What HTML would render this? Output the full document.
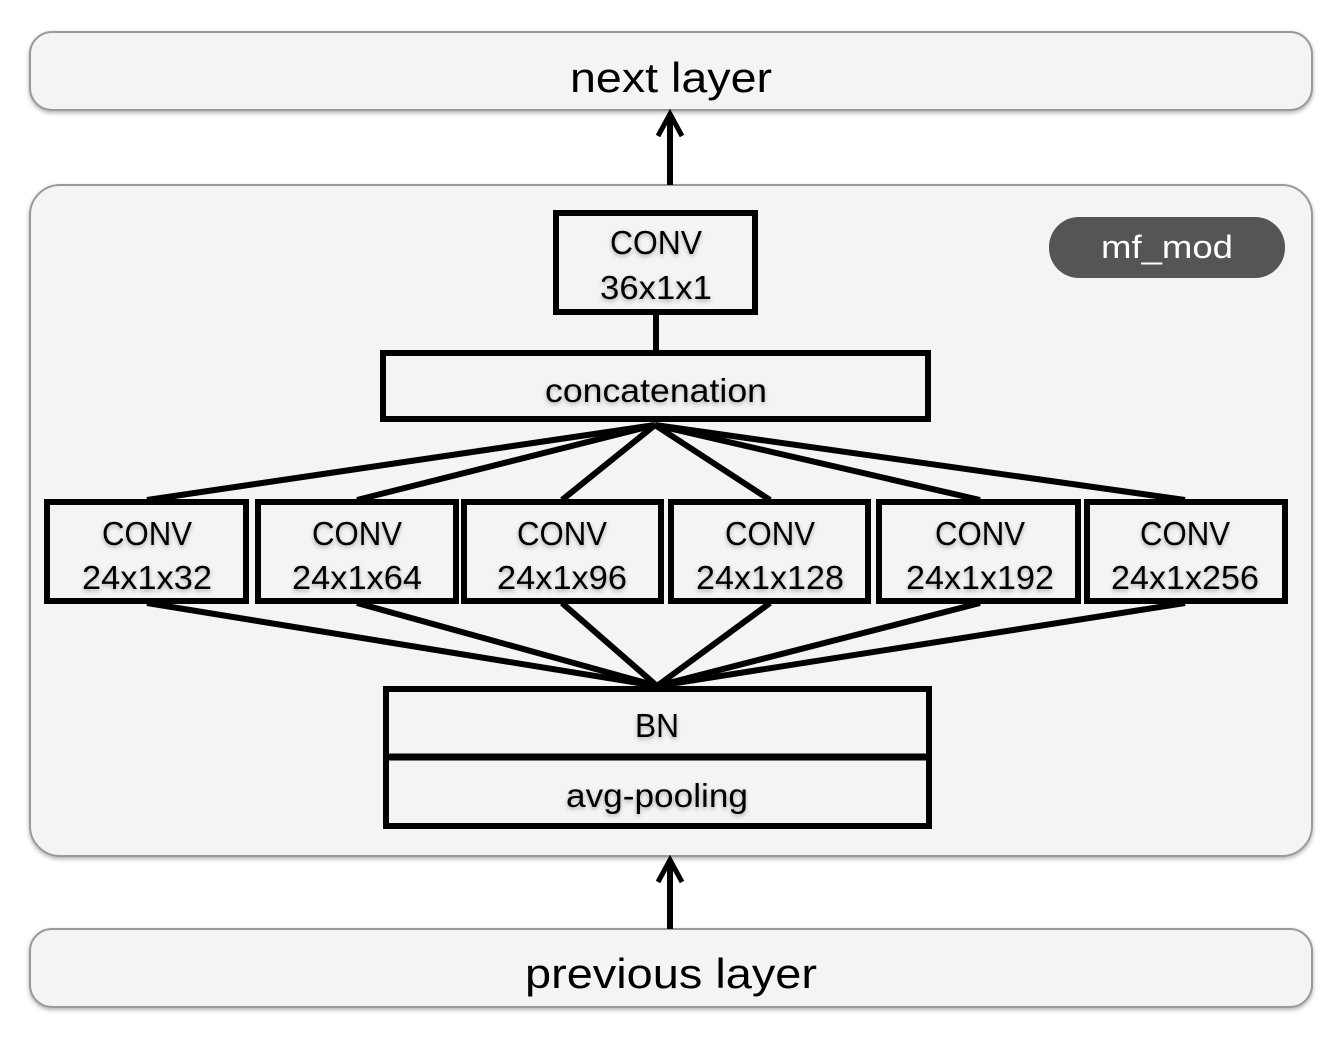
<!DOCTYPE html>
<html><head><meta charset="utf-8"><style>
html,body{margin:0;padding:0;background:#fff;width:1342px;height:1040px;overflow:hidden}
text{font-family:"Liberation Sans",sans-serif;fill:#000}
</style></head><body>
<svg width="1342" height="1040" viewBox="0 0 1342 1040" xmlns="http://www.w3.org/2000/svg">
<defs><filter id="sh" x="-5%" y="-5%" width="110%" height="120%"><feDropShadow dx="0" dy="2" stdDeviation="2" flood-color="#000" flood-opacity="0.3"/></filter></defs>
<rect x="30" y="32" width="1282" height="78" rx="22" fill="#f4f4f4" stroke="#9a9a9a" stroke-width="2" filter="url(#sh)"/>
<text x="671" y="92" font-size="42" text-anchor="middle" textLength="202" lengthAdjust="spacingAndGlyphs">next layer</text>
<rect x="30" y="929" width="1282" height="78" rx="22" fill="#f4f4f4" stroke="#9a9a9a" stroke-width="2" filter="url(#sh)"/>
<text x="671" y="988" font-size="42" text-anchor="middle" textLength="292" lengthAdjust="spacingAndGlyphs">previous layer</text>
<rect x="30" y="185" width="1282" height="671" rx="30" fill="#f4f4f4" stroke="#9a9a9a" stroke-width="2" filter="url(#sh)"/>
<g stroke="#000" stroke-width="6" fill="none">
<line x1="670" y1="185" x2="670" y2="116"/><polyline points="658,136 670,114 682,136" stroke-width="5"/>
<line x1="670" y1="929" x2="670" y2="862"/><polyline points="658,882 670,860 682,882" stroke-width="5"/>
<line x1="656" y1="314" x2="656" y2="351"/>
<g stroke-width="6">
<line x1="655" y1="425" x2="147" y2="500"/><line x1="655" y1="425" x2="357" y2="500"/><line x1="655" y1="425" x2="562" y2="500"/>
<line x1="655" y1="425" x2="770" y2="500"/><line x1="655" y1="425" x2="980" y2="500"/><line x1="655" y1="425" x2="1185" y2="500"/>
<line x1="657" y1="686" x2="147" y2="603"/><line x1="657" y1="686" x2="357" y2="603"/><line x1="657" y1="686" x2="562" y2="603"/>
<line x1="657" y1="686" x2="770" y2="603"/><line x1="657" y1="686" x2="980" y2="603"/><line x1="657" y1="686" x2="1185" y2="603"/>
</g>
<g fill="#f4f4f4" stroke-width="6">
<rect x="556" y="213" width="199" height="99"/>
<rect x="383" y="353" width="545" height="66"/>
<rect x="47" y="502" width="199" height="99"/>
<rect x="258" y="502" width="198" height="99"/>
<rect x="464" y="502" width="197" height="99"/>
<rect x="671" y="502" width="197" height="99"/>
<rect x="879" y="502" width="199" height="99"/>
<rect x="1087" y="502" width="198" height="99"/>
<rect x="386" y="689" width="543" height="137"/>
</g>
<line x1="386" y1="757" x2="929" y2="757" stroke-width="7"/>
</g>
<rect x="1049" y="217" width="236" height="61" rx="30" fill="#555"/>
<text x="1167" y="258" font-size="32" text-anchor="middle" fill="#fff" style="fill:#fff" textLength="132" lengthAdjust="spacingAndGlyphs">mf_mod</text>
<g font-size="33" text-anchor="middle" filter="url(#sh)">
<text x="656" y="254" textLength="92" lengthAdjust="spacingAndGlyphs">CONV</text>
<text x="656" y="299" textLength="112" lengthAdjust="spacingAndGlyphs">36x1x1</text>
<text x="656" y="402" textLength="222" lengthAdjust="spacingAndGlyphs">concatenation</text>
<text x="147" y="545" textLength="90" lengthAdjust="spacingAndGlyphs">CONV</text>
<text x="147" y="589" textLength="130" lengthAdjust="spacingAndGlyphs">24x1x32</text>
<text x="357" y="545" textLength="90" lengthAdjust="spacingAndGlyphs">CONV</text>
<text x="357" y="589" textLength="130" lengthAdjust="spacingAndGlyphs">24x1x64</text>
<text x="562" y="545" textLength="90" lengthAdjust="spacingAndGlyphs">CONV</text>
<text x="562" y="589" textLength="130" lengthAdjust="spacingAndGlyphs">24x1x96</text>
<text x="770" y="545" textLength="90" lengthAdjust="spacingAndGlyphs">CONV</text>
<text x="770" y="589" textLength="148" lengthAdjust="spacingAndGlyphs">24x1x128</text>
<text x="980" y="545" textLength="90" lengthAdjust="spacingAndGlyphs">CONV</text>
<text x="980" y="589" textLength="148" lengthAdjust="spacingAndGlyphs">24x1x192</text>
<text x="1185" y="545" textLength="90" lengthAdjust="spacingAndGlyphs">CONV</text>
<text x="1185" y="589" textLength="148" lengthAdjust="spacingAndGlyphs">24x1x256</text>
<text x="657" y="737" textLength="44" lengthAdjust="spacingAndGlyphs">BN</text>
<text x="657" y="807" textLength="182" lengthAdjust="spacingAndGlyphs">avg-pooling</text>
</g>
</svg>
</body></html>
